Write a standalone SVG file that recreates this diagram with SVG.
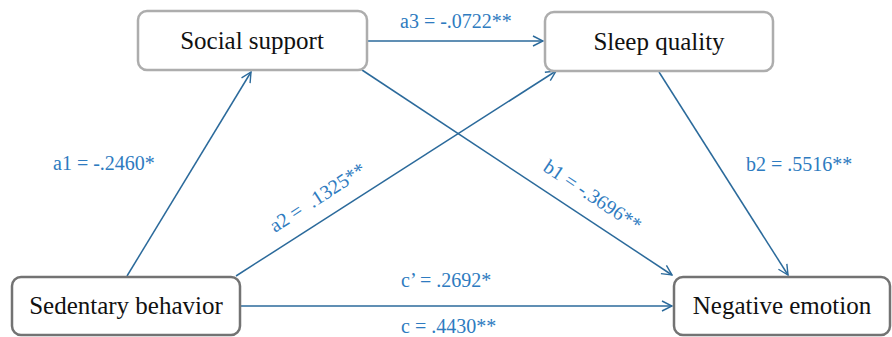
<svg xmlns="http://www.w3.org/2000/svg" width="892" height="337" viewBox="0 0 892 337">
<defs>
<marker id="arr" viewBox="0 0 12 12" refX="11" refY="6" markerWidth="12" markerHeight="12" markerUnits="userSpaceOnUse" orient="auto">
<path d="M1,1 L11,6 L1,11" fill="none" stroke="#2B6A9B" stroke-width="1.4"/>
</marker>
<style>
.box{fill:#fff;stroke-width:2.5}
.light{stroke:#ADADAD}
.dark{stroke:#737373}
.nt{font-family:"Liberation Serif","Times New Roman",serif;font-size:25px;fill:#111;text-anchor:middle}
.lb{font-family:"Liberation Serif","Times New Roman",serif;font-size:20px;fill:#2E7BC0}
.ln{stroke:#2B6A9B;stroke-width:1.5;fill:none;marker-end:url(#arr)}
</style>
</defs>
<rect width="892" height="337" fill="#fff"/>
<g id="connectors">
<line class="ln" x1="127" y1="276" x2="251" y2="72"/>
<line class="ln" x1="367" y1="41" x2="543" y2="41"/>
<line class="ln" x1="236" y1="276" x2="556" y2="71"/>
<line class="ln" x1="362" y1="70" x2="672" y2="275"/>
<line class="ln" x1="659" y1="72" x2="788" y2="275"/>
<line class="ln" x1="241" y1="306" x2="672" y2="306"/>
</g>
<g id="labels">
<text class="lb" x="400" y="28">a3 = -.0722**</text>
<text class="lb" x="53" y="170">a1 = -.2460*</text>
<text class="lb" x="746" y="171">b2 = .5516**</text>
<text class="lb" x="401" y="287">c’ = .2692*</text>
<text class="lb" x="401" y="333">c = .4430**</text>
<text class="lb" transform="translate(275,233) rotate(-33)" xml:space="preserve">a2 =  .1325**</text>
<text class="lb" transform="translate(542,170) rotate(33.5)">b1 = -.3696**</text>
</g>
<g id="social">
<rect class="box light" x="138" y="11" width="229" height="59" rx="9"/>
<text class="nt" x="252" y="49">Social support</text>
</g>
<g id="sleep">
<rect class="box light" x="545" y="12" width="228" height="59" rx="9"/>
<text class="nt" x="659" y="50">Sleep quality</text>
</g>
<g id="sedentary">
<rect class="box dark" x="12" y="277" width="228" height="58" rx="9"/>
<text class="nt" x="126" y="314">Sedentary behavior</text>
</g>
<g id="negative">
<rect class="box dark" x="674" y="277" width="216" height="58" rx="9"/>
<text class="nt" x="782" y="314">Negative emotion</text>
</g>
</svg>
